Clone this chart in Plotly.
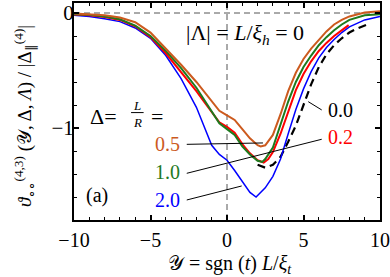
import plotly.graph_objects as go

# ---------------- data ----------------
x_brown = [-10, -9, -8, -7, -6, -5, -4, -3, -2, -1.5, -1, -0.5, 0, 0.5, 1, 1.5, 2, 2.2, 2.5, 3, 3.5, 4, 4.5, 5, 5.5, 6, 6.5, 7, 7.5, 8, 9, 10]
y_brown = [-0.005, -0.01, -0.02, -0.04, -0.08, -0.17, -0.31, -0.45, -0.60, -0.68, -0.77, -0.85, -0.89, -0.93, -1.01, -1.09, -1.15, -1.16, -1.15, -1.06, -0.88, -0.68, -0.52, -0.40, -0.31, -0.23, -0.16, -0.10, -0.06, -0.03, 0.005, 0.015]

x_green = [-10, -9, -8, -7, -6, -5, -4, -3, -2, -1.5, -1, -0.5, 0, 0.5, 1, 1.5, 2, 2.3, 2.5, 3, 3.5, 4, 4.5, 5, 5.5, 6, 6.5, 7, 7.5, 8, 9, 10]
y_green = [-0.01, -0.015, -0.03, -0.055, -0.11, -0.20, -0.33, -0.48, -0.65, -0.75, -0.86, -0.96, -1.01, -1.06, -1.16, -1.23, -1.285, -1.295, -1.27, -1.17, -0.97, -0.77, -0.60, -0.47, -0.37, -0.28, -0.21, -0.15, -0.10, -0.06, -0.02, -0.01]

x_red = [-10, -9, -8, -7, -6, -5, -4, -3, -2, -1.5, -1, -0.5, 0, 0.5, 1, 1.5, 2, 2.4, 2.7, 3, 3.5, 4, 4.5, 5, 5.5, 6, 6.5, 7, 7.5, 7.95]
y_red = [-0.012, -0.02, -0.035, -0.06, -0.115, -0.21, -0.35, -0.51, -0.68, -0.77, -0.86, -0.95, -0.99, -1.04, -1.14, -1.22, -1.28, -1.30, -1.27, -1.21, -1.05, -0.85, -0.67, -0.53, -0.42, -0.33, -0.26, -0.20, -0.15, -0.105]

x_blue = [-10, -9, -8, -7, -6, -5, -4, -3, -2, -1.5, -1, -0.5, 0, 0.5, 1, 1.5, 1.9, 2.5, 3, 3.5, 4, 4.5, 5, 5.5, 6, 6.5, 7, 7.5, 8, 9, 10]
y_blue = [-0.02, -0.03, -0.05, -0.075, -0.13, -0.22, -0.37, -0.57, -0.82, -0.99, -1.15, -1.23, -1.28, -1.37, -1.47, -1.56, -1.60, -1.52, -1.42, -1.27, -1.05, -0.84, -0.66, -0.51, -0.39, -0.30, -0.23, -0.17, -0.12, -0.06, -0.03]

x_black = [2.0, 2.5, 3, 3.5, 4, 4.5, 5, 5.5, 6, 6.5, 7, 7.5, 8, 8.5, 9.15]
y_black = [-1.32, -1.345, -1.32, -1.25, -1.12, -0.98, -0.80, -0.62, -0.47, -0.36, -0.28, -0.22, -0.17, -0.135, -0.10]

labels = ["0.0", "0.2", "0.5", "1.0", "2.0"]
x_ticks = [-10, -5, 0, 5, 10]
y_ticks = [-1, 0]

BROWN = "#cc5a1e"
GREEN = "#1e7a1e"
RED = "#ff0000"
BLUE = "#0000ff"
FONT = "Liberation Serif"

fig = go.Figure()
fig.add_trace(go.Scatter(x=x_black, y=y_black, mode="lines",
                         line=dict(color="black", width=2.2, dash="8px,5px")))
fig.add_trace(go.Scatter(x=x_blue, y=y_blue, mode="lines", line=dict(color=BLUE, width=1.5)))
fig.add_trace(go.Scatter(x=x_red, y=y_red, mode="lines", line=dict(color=RED, width=2)))
fig.add_trace(go.Scatter(x=x_green, y=y_green, mode="lines", line=dict(color=GREEN, width=2)))
fig.add_trace(go.Scatter(x=x_brown, y=y_brown, mode="lines", line=dict(color=BROWN, width=2)))

# reference dashed lines
fig.add_shape(type="line", xref="x", yref="y", x0=-10, x1=10, y0=0, y1=0,
              line=dict(color="#555555", width=1, dash="6px,4px"), layer="below")
fig.add_shape(type="line", xref="x", yref="paper", x0=0, x1=0, y0=0, y1=1,
              line=dict(color="#555555", width=1, dash="6px,4px"), layer="below")

# label leader lines
leaders = [
    (5.31, -0.771, 6.19, -0.843),   # 0.0
    (-2.63, -1.394, 6.19, -1.098),  # 1.0 / 0.2
    (-2.63, -1.142, 2.35, -1.13),   # 0.5
    (-2.63, -1.626, 0.96, -1.504),  # 2.0
]
for (a, b, c, d) in leaders:
    fig.add_shape(type="line", xref="x", yref="y", x0=a, y0=b, x1=c, y1=d,
                  line=dict(color="black", width=1))

def txt(x, y, s, size=20, color="black"):
    fig.add_annotation(x=x, y=y, xref="x", yref="y", text=s, showarrow=False,
                       font=dict(family=FONT, size=size, color=color),
                       xanchor="center", yanchor="middle")

txt(7.4, -0.843, labels[0])
txt(7.4, -1.08, labels[1], color=RED)
txt(-3.86, -1.14, labels[2], color=BROWN)
txt(-3.86, -1.38, labels[3], color=GREEN)
txt(-3.86, -1.63, labels[4], color=BLUE)
txt(1.2, -0.18, "|Λ| = <i>L</i>/<i>ξ</i><sub><i>h</i></sub> = 0", size=22)
txt(-8.05, -0.896, "Δ=", size=22)
txt(-5.88, -0.80, "<i>L</i>", size=13)
txt(-5.88, -0.95, "<i>R</i>", size=13)
fig.add_shape(type="line", xref="x", yref="y", x0=-6.27, x1=-5.45, y0=-0.866, y1=-0.866,
              line=dict(color="black", width=1))
txt(-4.55, -0.904, "=", size=22)
txt(-8.5, -1.59, "(a)")

# axis titles as annotations (paper coords)
fig.add_annotation(x=0.51, y=-0.207, xref="paper", yref="paper", showarrow=False,
                   text="𝒴 = sgn (<i>t</i>) <i>L</i>/<i>ξ</i><sub><i>t</i></sub>",
                   font=dict(family=FONT, size=20, color="black"),
                   xanchor="center", yanchor="middle")
fig.add_annotation(x=-0.16, y=0.48, xref="paper", yref="paper", showarrow=False, textangle=-90,
                   text="<i>ϑ</i><sub>∘∘</sub><sup>(4,3)</sup> (𝒴, Δ, <i>Λ</i>) / |Δ<sub>∥</sub><sup>(4)</sup>|",
                   font=dict(family=FONT, size=19, color="black"),
                   xanchor="center", yanchor="middle")

axis_common = dict(showline=True, linecolor="black", linewidth=2, mirror="allticks",
                   ticks="inside", ticklen=5, tickwidth=1.5, tickcolor="black",
                   showgrid=False, zeroline=False, automargin=False)

fig.update_xaxes(range=[-10, 10], tickvals=x_ticks, ticklabelstandoff=1,
                 tickfont=dict(family=FONT, size=20, color="black"),
                 minor=dict(dtick=1, ticks="inside", ticklen=3, tickwidth=1.2, tickcolor="black"),
                 **axis_common)
fig.update_yaxes(range=[-1.8, 0.087], tickvals=y_ticks, ticklabelstandoff=-6,
                 tickfont=dict(family=FONT, size=21, color="black"),
                 minor=dict(dtick=0.2, tick0=0, ticks="inside", ticklen=3, tickwidth=1.2, tickcolor="black"),
                 **axis_common)

fig.update_layout(width=390, height=277, margin=dict(l=74, r=10, t=3, b=57, autoexpand=False),
                  plot_bgcolor="white", paper_bgcolor="white", showlegend=False)

fig.write_html("out.html", config={"displayModeBar": False},
               post_script="document.body.style.margin='0px';document.body.style.padding='0px';")
